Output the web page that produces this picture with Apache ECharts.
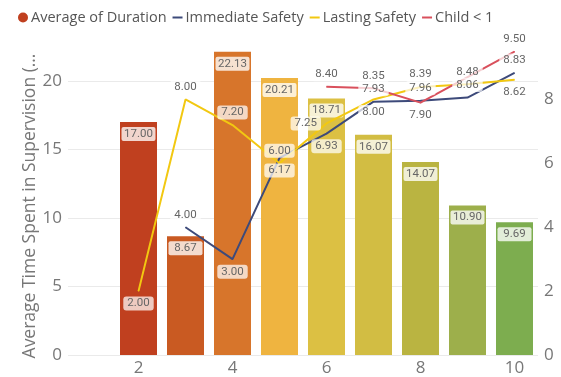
<!DOCTYPE html>
<html>
<head>
<meta charset="utf-8">
<script src="https://cdn.jsdelivr.net/npm/echarts@6/dist/echarts.min.js"></script>
<style>
  html, body { margin: 0; padding: 0; background: #fff; }
  #main { width: 561px; height: 377px; }
</style>
</head>
<body>
<div id="main"></div>
<script>
// data (category 1 has no values)
const categories = ['1', '2', '3', '4', '5', '6', '7', '8', '9', '10'];
const avgDuration = [null, 17.00, 8.67, 22.13, 20.21, 18.71, 16.07, 14.07, 10.90, 9.69];
const immediateSafety = [null, null, 4.00, 3.00, 6.17, 6.93, 7.93, 7.96, 8.06, 8.83];
const lastingSafety = [null, 2.00, 8.00, 7.20, 6.00, 7.25, 8.00, 8.39, 8.48, 8.62];
const childUnder1 = [null, null, null, null, null, 8.40, 8.35, 7.90, 8.70, 9.50];

// where each line label sits (null = no label shown)
const immPos = [null, null, 'top', 'bottom', 'bottom', 'bottom', 'top', 'top', 'top', 'top'];
const lastPos = [null, 'bottom', 'top', 'top', 'top', 'left', 'bottom', 'top', 'top', 'bottom'];
const childPos = [null, null, null, null, null, 'top', 'top', 'bottom', null, 'top'];

const barColors = ['#C0401F', '#C0401F', '#C95A22', '#D7752B', '#EFB440',
  '#DCC043', '#D2BD43', '#BAB441', '#9DAF4B', '#7DAD4F'];

const labelFont = { fontFamily: 'Roboto', fontSize: 11.5, color: '#666' };
const fmt = p => p.value == null ? '' : Number(p.value).toFixed(2);

function lineData(values, pos) {
  return values.map((v, i) => {
    if (v == null) return null;
    return pos[i] ? { value: v, label: { position: pos[i] } } : { value: v, label: { show: false } };
  });
}

const lineLabel = {
  show: true,
  formatter: fmt,
  distance: 5,
  backgroundColor: 'rgba(255,255,255,0.72)',
  borderRadius: 3,
  padding: [1, 4],
  ...labelFont
};

function lineSeries(name, color, values, pos) {
  return {
    name: name,
    type: 'line',
    yAxisIndex: 1,
    symbol: 'circle',
    symbolSize: 1,
    showSymbol: true,
    lineStyle: { width: 2, color: color },
    itemStyle: { color: color },
    label: lineLabel,
    data: lineData(values, pos),
    z: 3
  };
}

const chart = echarts.init(document.getElementById('main'));
chart.setOption({
  animation: false,
  textStyle: { fontFamily: 'Open Sans' },
  legend: {
    left: 13, top: 5,
    itemWidth: 10, itemHeight: 10, itemGap: 6,
    textStyle: { fontSize: 14.5, color: '#555', fontFamily: 'Open Sans', padding: [0, 0, 0, -2] },
    data: [
      { name: 'Average of Duration', icon: 'circle' },
      { name: 'Immediate Safety', icon: 'path://M0,0H10V2H0Z' },
      { name: 'Lasting Safety', icon: 'path://M0,0H10V2H0Z' },
      { name: 'Child < 1', icon: 'path://M0,0H10V2H0Z' }
    ]
  },
  graphic: [{
    type: 'text',
    x: 30, y: 206,
    rotation: Math.PI / 2,
    style: {
      text: 'Average Time Spent in Supervision (…',
      fill: '#777', fontSize: 17.5, fontFamily: 'Open Sans',
      align: 'center', verticalAlign: 'middle'
    }
  }],
  grid: { left: 68, right: 23, top: 26, bottom: 22, containLabel: false },
  xAxis: {
    type: 'category',
    data: categories,
    axisLine: { show: false },
    axisTick: { show: false },
    axisLabel: {
      interval: (i) => i % 2 === 1,
      color: '#777', fontSize: 17, fontFamily: 'Open Sans', margin: 5
    }
  },
  yAxis: [{
    type: 'value',
    min: 0, max: 24, interval: 5,
    axisLabel: { color: '#777', fontSize: 17, fontFamily: 'Open Sans', showMaxLabel: false, margin: 6 },
    splitLine: { lineStyle: { color: ['#EAEAEA', '#EAEAEA', '#EAEAEA', '#EAEAEA', '#EAEAEA', 'rgba(0,0,0,0)'] } }
  }, {
    type: 'value',
    min: 0, max: 10.3, interval: 2,
    axisLabel: {
      color: '#777', fontSize: 17, fontFamily: 'Open Sans', margin: 6,
      formatter: v => v <= 8 ? v : ''
    },
    splitLine: { show: false }
  }],
  series: [{
    name: 'Average of Duration',
    type: 'bar',
    barWidth: 37,
    itemStyle: { color: '#C0401F' },
    data: avgDuration.map((v, i) => v == null ? null : { value: v, itemStyle: { color: barColors[i] } }),
    label: {
      show: true,
      position: 'insideTop',
      distance: 5,
      formatter: fmt,
      width: 34,
      align: 'center',
      backgroundColor: 'rgba(255,255,255,0.78)',
      borderRadius: 2,
      padding: [1, 0],
      ...labelFont
    },
    z: 2
  },
    lineSeries('Immediate Safety', '#3D4A7A', immediateSafety, immPos),
    lineSeries('Lasting Safety', '#F2C811', lastingSafety, lastPos),
    lineSeries('Child < 1', '#D9505C', childUnder1, childPos)
  ]
});
</script>
</body>
</html>
